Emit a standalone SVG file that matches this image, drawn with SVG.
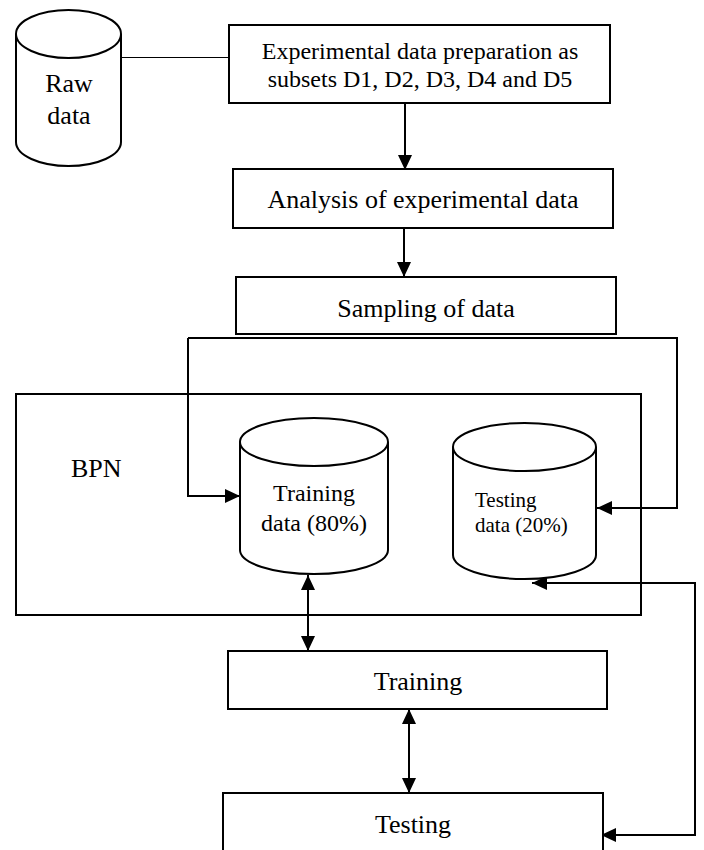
<svg xmlns="http://www.w3.org/2000/svg" width="704" height="850" viewBox="0 0 704 850">
<style>
.box{fill:#fff;stroke:#000;stroke-width:2}
.cyl{fill:#fff;stroke:#000;stroke-width:2}
.con{fill:none;stroke:#000;stroke-width:2}
.thin{fill:none;stroke:#000;stroke-width:1}
text{font-family:"Liberation Serif","Times New Roman",serif;fill:#000}
.t26{font-size:26px;text-anchor:middle}
.t24{font-size:24px;text-anchor:middle}
.t21{font-size:21px}
</style>
<defs>
<marker id="ah" markerUnits="userSpaceOnUse" markerWidth="15" markerHeight="14" refX="15" refY="7" orient="auto-start-reverse">
<path d="M0,0 L15,7 L0,14 z" fill="#000"/>
</marker>
</defs>
<rect width="704" height="850" fill="#fff"/>
<g id="connectors">
<path class="thin" d="M121,57.5 H229"/>
<path class="con" d="M405,103 V170" marker-end="url(#ah)"/>
<path class="con" d="M404,228 V277" marker-end="url(#ah)"/>
<path class="con" d="M188,338 V496 H240" marker-end="url(#ah)"/>
<path class="con" d="M188,338 H677 V508 H597" marker-end="url(#ah)"/>
<path class="con" d="M532,583 H695 V835 H601" marker-start="url(#ah)" marker-end="url(#ah)"/>
<path class="con" d="M308,575 V651" marker-start="url(#ah)" marker-end="url(#ah)"/>
<path class="con" d="M409,709 V793" marker-start="url(#ah)" marker-end="url(#ah)"/>
</g>
<g id="raw">
<path class="cyl" d="M16,34 V142 A52.5,24 0 0 0 121,142 V34"/>
<ellipse class="cyl" cx="68.5" cy="34" rx="52.5" ry="24"/>
<text class="t26" x="69" y="92">Raw</text>
<text class="t26" x="69" y="124">data</text>
</g>
<g id="prep">
<rect class="box" x="229" y="25" width="381" height="78"/>
<text class="t24" x="420" y="59">Experimental data preparation as</text>
<text class="t24" x="420" y="87">subsets D1, D2, D3, D4 and D5</text>
</g>
<g id="analysis">
<rect class="box" x="233" y="169" width="380" height="59"/>
<text class="t26" x="423" y="208">Analysis of experimental data</text>
</g>
<g id="sampling">
<rect class="box" x="236" y="277" width="380" height="57"/>
<text class="t26" x="426" y="317">Sampling of data</text>
</g>
<g id="bpn">
<rect x="16" y="394" width="625" height="221" style="fill:none;stroke:#000;stroke-width:2"/>
<text x="71" y="477" style="font-size:26px">BPN</text>
</g>
<g id="trainingData">
<path class="cyl" d="M240,442 V550 A74,24 0 0 0 388,550 V442"/>
<ellipse class="cyl" cx="314" cy="442" rx="74" ry="24"/>
<text class="t24" x="314" y="501">Training</text>
<text class="t24" x="314" y="531">data (80%)</text>
</g>
<g id="testingData">
<path class="cyl" d="M453,447 V555 A71.5,24 0 0 0 596,555 V447"/>
<ellipse class="cyl" cx="524.5" cy="447" rx="71.5" ry="24"/>
<text class="t21" x="475" y="507">Testing</text>
<text class="t21" x="475" y="532">data (20%)</text>
</g>
<g id="training">
<rect class="box" x="228" y="651" width="379" height="58"/>
<text class="t26" x="418" y="690">Training</text>
</g>
<g id="testing">
<rect class="box" x="223" y="793" width="380" height="80"/>
<text class="t26" x="413" y="833">Testing</text>
</g>
</svg>
